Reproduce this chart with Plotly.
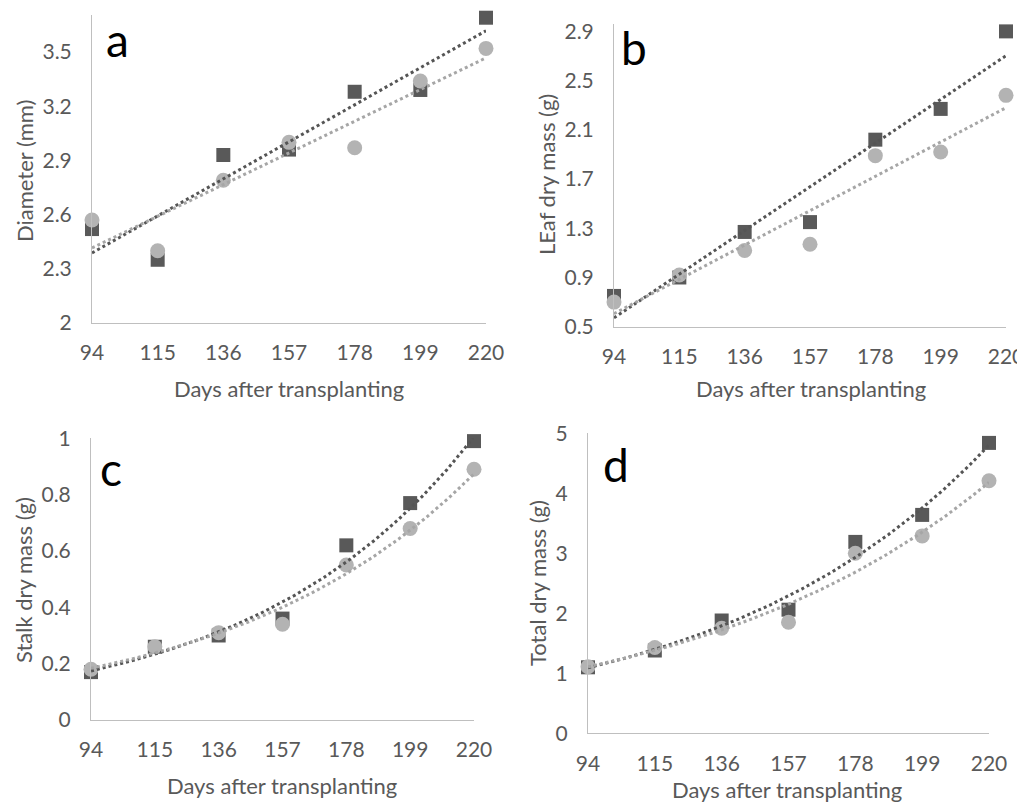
import numpy as np
import plotly.graph_objects as go

days = [94, 115, 136, 157, 178, 199, 220]

# panel a: Diameter (mm)
diam_dark = [2.52, 2.35, 2.93, 2.96, 3.28, 3.29, 3.69]
diam_light = [2.57, 2.40, 2.79, 3.00, 2.97, 3.34, 3.52]
# panel b: Leaf dry mass (g)
leaf_dark = [0.75, 0.90, 1.27, 1.35, 2.02, 2.27, 2.90]
leaf_light = [0.70, 0.92, 1.12, 1.17, 1.89, 1.92, 2.38]
# panel c: Stalk dry mass (g)
stalk_dark = [0.17, 0.26, 0.30, 0.36, 0.62, 0.77, 0.99]
stalk_light = [0.18, 0.26, 0.31, 0.34, 0.55, 0.68, 0.89]
# panel d: Total dry mass (g)
total_dark = [1.10, 1.38, 1.88, 2.06, 3.19, 3.64, 4.84]
total_light = [1.11, 1.43, 1.75, 1.85, 3.00, 3.29, 4.21]

DARK = "#595959"
LIGHT = "#b3b3b3"
DARK_T = "#555555"
LIGHT_T = "#a6a6a6"
AXIS = "#bfbfbf"
TXT = "#595959"
FONT = "Lato"

# the page body has an 8px margin, so the figure is drawn 8px in
OFF = 8
W, H = 1025 - OFF, 803 - OFF


def px(x):
    return (x - OFF) / W


def py(y):
    return 1 - (y - OFF) / H


panels = [
    dict(key="", dark=diam_dark, light=diam_light, fit="lin",
         xd=[92, 486], yd=[323, 15], yr=[2, 3.705], dt=0.3, t0=2,
         ytitle="Diameter (mm)", letter="a",
         lpos=(104, 40), xt=(289, 388), yt=(25, 171)),
    dict(key="2", dark=leaf_dark, light=leaf_light, fit="lin",
         xd=[614, 1006], yd=[326.7, 24], yr=[0.5, 2.96], dt=0.4, t0=0.5,
         ytitle="LEaf dry mass (g)", letter="b",
         lpos=(619, 48), xt=(811, 388), yt=(547, 175)),
    dict(key="3", dark=stalk_dark, light=stalk_light, fit="exp",
         xd=[91, 474], yd=[720, 438.3], yr=[0, 1.0], dt=0.2, t0=0,
         ytitle="Stalk dry mass (g)", letter="c",
         lpos=(98, 468), xt=(282, 785), yt=(23, 580)),
    dict(key="4", dark=total_dark, light=total_light, fit="exp",
         xd=[588, 989], yd=[733.3, 433.3], yr=[0, 5.0], dt=1, t0=0,
         ytitle="Total dry mass (g)", letter="d",
         lpos=(601, 464), xt=(787, 789), yt=(537, 583)),
]

fig = go.Figure()
annotations = []
xx = np.linspace(days[0], days[-1], 200)


def trend(y, kind):
    x = np.array(days, dtype=float)
    y = np.array(y, dtype=float)
    if kind == "lin":
        c = np.polyfit(x, y, 1)
        return np.polyval(c, xx)
    c = np.polyfit(x, np.log(y), 1)
    return np.exp(np.polyval(c, xx))


layout = {}
for p in panels:
    k = p["key"]
    xa, ya = "x" + k, "y" + k
    fig.add_trace(go.Scatter(x=days, y=p["dark"], mode="markers", xaxis=xa, yaxis=ya,
                             marker=dict(symbol="square", size=14, color=DARK),
                             cliponaxis=False, showlegend=False))
    fig.add_trace(go.Scatter(x=days, y=p["light"], mode="markers", xaxis=xa, yaxis=ya,
                             marker=dict(symbol="circle", size=15, color=LIGHT),
                             cliponaxis=False, showlegend=False))
    fig.add_trace(go.Scatter(x=xx, y=trend(p["dark"], p["fit"]), mode="lines", xaxis=xa, yaxis=ya,
                             line=dict(color=DARK_T, width=3, dash="dot"),
                             cliponaxis=False, showlegend=False))
    fig.add_trace(go.Scatter(x=xx, y=trend(p["light"], p["fit"]), mode="lines", xaxis=xa, yaxis=ya,
                             line=dict(color=LIGHT_T, width=3, dash="dot"),
                             cliponaxis=False, showlegend=False))

    ticks = []
    v = p["t0"]
    while v <= p["yr"][1] + 1e-9:
        ticks.append(round(v, 4))
        v += p["dt"]
    tt = [("%g" % t) for t in ticks]

    layout["xaxis" + k] = dict(
        domain=[px(p["xd"][0]), px(p["xd"][1])], anchor=ya, range=[94, 220],
        tickmode="array", tickvals=days, ticktext=[str(d) for d in days],
        showgrid=False, zeroline=False, showline=True, linecolor=AXIS, linewidth=1,
        ticks="", tickfont=dict(family=FONT, size=21, color=TXT), ticklabelstandoff=11,
        automargin=False,
    )
    layout["yaxis" + k] = dict(
        domain=[py(p["yd"][0]), py(p["yd"][1])], anchor=xa, range=p["yr"],
        tickmode="array", tickvals=ticks, ticktext=tt,
        showgrid=False, zeroline=False, showline=True, linecolor=AXIS, linewidth=1,
        ticks="", tickfont=dict(family=FONT, size=21, color=TXT), ticklabelstandoff=15,
        automargin=False,
    )
    annotations.append(dict(text=p["letter"], x=px(p["lpos"][0]), y=py(p["lpos"][1]),
                            xref="paper", yref="paper", xanchor="left", yanchor="middle",
                            showarrow=False, font=dict(family=FONT, size=46, color="#000000")))
    annotations.append(dict(text="Days after transplanting", x=px(p["xt"][0]), y=py(p["xt"][1]),
                            xref="paper", yref="paper", xanchor="center", yanchor="middle",
                            showarrow=False, font=dict(family=FONT, size=22, color=TXT)))
    annotations.append(dict(text=p["ytitle"], x=px(p["yt"][0]), y=py(p["yt"][1]),
                            xref="paper", yref="paper", xanchor="center", yanchor="middle",
                            textangle=-90, showarrow=False,
                            font=dict(family=FONT, size=22, color=TXT)))

fig.update_layout(
    width=W, height=H, margin=dict(l=0, r=0, t=0, b=0),
    paper_bgcolor="white", plot_bgcolor="white",
    annotations=annotations, **layout,
)

fig.write_html("out.html")
